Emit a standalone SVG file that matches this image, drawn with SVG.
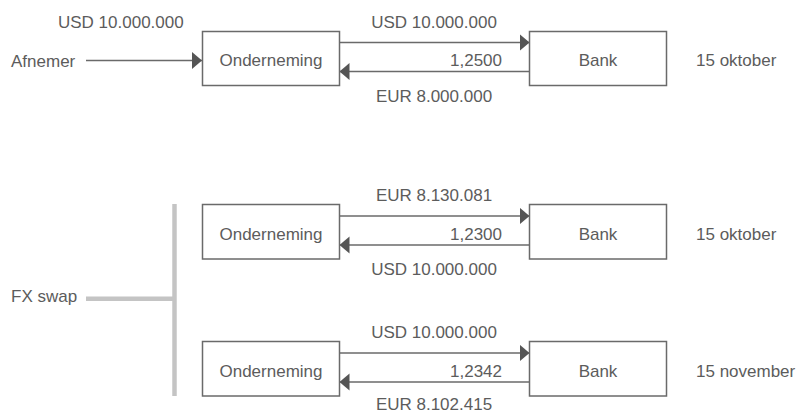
<svg xmlns="http://www.w3.org/2000/svg" width="799" height="413" viewBox="0 0 799 413">
<style>
  text { font-family: "Liberation Sans", Arial, sans-serif; font-size: 17px; fill: #5c5c5c; }
  .box { fill: #ffffff; stroke: #6a6a6a; stroke-width: 1.5; }
  .ln { stroke: #6a6a6a; stroke-width: 1.6; fill: none; }
  .bar { stroke: #c4c4c4; stroke-width: 4.5; fill: none; }
  .mid { text-anchor: middle; }
  .end { text-anchor: end; }
</style>
<defs>
  <marker id="ah" markerUnits="userSpaceOnUse" markerWidth="11" markerHeight="18" refX="10" refY="8.5" orient="auto" viewBox="0 0 11 18">
    <path d="M0,0 L10,8.5 L0,17 z" fill="#555555"/>
  </marker>
</defs>
<rect width="799" height="413" fill="#ffffff"/>

<g id="connectors">
  <line class="ln" x1="86" y1="60.5" x2="202" y2="60.5" marker-end="url(#ah)"/>
  <line class="ln" x1="339.5" y1="42.5" x2="529.5" y2="42.5" marker-end="url(#ah)"/>
  <line class="ln" x1="529.5" y1="71.5" x2="339.5" y2="71.5" marker-end="url(#ah)"/>
  <line class="ln" x1="339.5" y1="216" x2="529.5" y2="216" marker-end="url(#ah)"/>
  <line class="ln" x1="529.5" y1="245" x2="339.5" y2="245" marker-end="url(#ah)"/>
  <line class="ln" x1="339.5" y1="353" x2="529.5" y2="353" marker-end="url(#ah)"/>
  <line class="ln" x1="529.5" y1="382" x2="339.5" y2="382" marker-end="url(#ah)"/>
  <line class="bar" x1="174.5" y1="204" x2="174.5" y2="396"/>
  <line class="bar" x1="86" y1="298.8" x2="174.5" y2="298.8"/>
</g>

<g id="labels">
  <text x="58" y="28">USD 10.000.000</text>
  <text x="11" y="67">Afnemer</text>
  <text x="11" y="302">FX swap</text>

  <text class="mid" x="434" y="27.5">USD 10.000.000</text>
  <text class="end" x="502" y="66">1,2500</text>
  <text class="mid" x="434" y="101.5">EUR 8.000.000</text>
  <text x="696" y="66">15 oktober</text>

  <text class="mid" x="434" y="200.5">EUR 8.130.081</text>
  <text class="end" x="502" y="240">1,2300</text>
  <text class="mid" x="434" y="275">USD 10.000.000</text>
  <text x="696" y="240">15 oktober</text>

  <text class="mid" x="434" y="337.5">USD 10.000.000</text>
  <text class="end" x="502" y="376.5">1,2342</text>
  <text class="mid" x="434" y="410">EUR 8.102.415</text>
  <text x="696" y="376.5">15 november</text>
</g>

<g id="onderneming-1">
  <rect class="box" x="202.5" y="31.5" width="137" height="54"/>
  <text class="mid" x="271" y="66">Onderneming</text>
</g>
<g id="bank-1">
  <rect class="box" x="529.5" y="31.5" width="137" height="54"/>
  <text class="mid" x="598" y="66">Bank</text>
</g>
<g id="onderneming-2">
  <rect class="box" x="202.5" y="204.5" width="137" height="54.5"/>
  <text class="mid" x="271" y="240">Onderneming</text>
</g>
<g id="bank-2">
  <rect class="box" x="529.5" y="204.5" width="137" height="54.5"/>
  <text class="mid" x="598" y="240">Bank</text>
</g>
<g id="onderneming-3">
  <rect class="box" x="202.5" y="341.5" width="137" height="54.5"/>
  <text class="mid" x="271" y="376.5">Onderneming</text>
</g>
<g id="bank-3">
  <rect class="box" x="529.5" y="341.5" width="137" height="54.5"/>
  <text class="mid" x="598" y="376.5">Bank</text>
</g>
</svg>
